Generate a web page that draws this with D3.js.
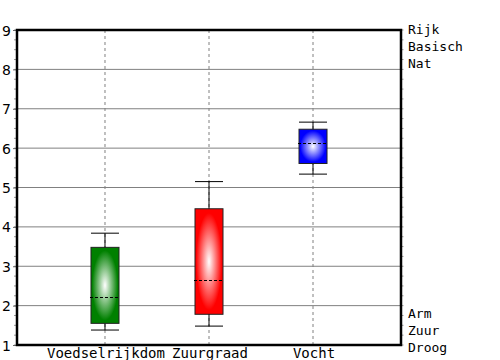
<!DOCTYPE html>
<html>
<head>
<meta charset="utf-8">
<script src="https://cdn.jsdelivr.net/npm/d3@7"></script>
<style>
  body { margin: 0; background: #fff; }
</style>
</head>
<body>
<div id="canvas"></div>
<script>
const categories = ["Voedselrijkdom", "Zuurgraad", "Vocht"];
const whiskerLow = [1.38, 1.48, 5.34];
const q1 = [1.55, 1.78, 5.61];
const medians = [2.21, 2.65, 6.12];
const q3 = [3.48, 4.46, 6.48];
const whiskerHigh = [3.84, 5.15, 6.66];
const yTicks = [1, 2, 3, 4, 5, 6, 7, 8, 9];
const topLabels = ["Rijk", "Basisch", "Nat"];
const bottomLabels = ["Arm", "Zuur", "Droog"];
const boxColors = ["#008000", "#ff0000", "#0000ff"];

const data = categories.map((c, i) => ({
    name: c, lo: whiskerLow[i], q1: q1[i], med: medians[i], q3: q3[i], hi: whiskerHigh[i], color: boxColors[i]
}));

const svg = d3.select("#canvas").append("svg")
    .attr("width", 500)
    .attr("height", 360);

const plotLeft = 17, plotRight = 401, plotTop = 30, plotBottom = 345;

const y = d3.scaleLinear().domain([1, 9]).range([plotBottom, plotTop]);
const x = d3.scalePoint().domain(categories).range([plotLeft, plotRight]).padding(0.846);
const boxW = 28;

// gradients
const defs = svg.append("defs");
data.forEach((d, i) => {
    const g = defs.append("radialGradient").attr("id", "grad" + i);
    g.append("stop").attr("offset", "0%").attr("stop-color", "#ffffff");
    g.append("stop").attr("offset", "92%").attr("stop-color", d.color);
});

// horizontal grid
svg.append("g").selectAll("line")
    .data(yTicks.filter(t => t > 1 && t < 9))
    .enter().append("line")
    .attr("x1", plotLeft).attr("x2", plotRight)
    .attr("y1", d => y(d)).attr("y2", d => y(d))
    .attr("stroke", "#808080").attr("stroke-width", 1);

// vertical dashed grid
svg.append("g").selectAll("line")
    .data(categories)
    .enter().append("line")
    .attr("x1", d => x(d)).attr("x2", d => x(d))
    .attr("y1", plotTop).attr("y2", plotBottom)
    .attr("stroke", "#808080").attr("stroke-dasharray", "3,3");

// boxes
const box = svg.append("g").selectAll("g")
    .data(data)
    .enter().append("g");

box.append("line") // whisker stem
    .attr("x1", d => x(d.name)).attr("x2", d => x(d.name))
    .attr("y1", d => y(d.hi)).attr("y2", d => y(d.lo))
    .attr("stroke", "#000");

box.append("line")
    .attr("x1", d => x(d.name) - boxW / 2).attr("x2", d => x(d.name) + boxW / 2)
    .attr("y1", d => y(d.hi)).attr("y2", d => y(d.hi))
    .attr("stroke", "#000");

box.append("line")
    .attr("x1", d => x(d.name) - boxW / 2).attr("x2", d => x(d.name) + boxW / 2)
    .attr("y1", d => y(d.lo)).attr("y2", d => y(d.lo))
    .attr("stroke", "#000");

box.append("rect")
    .attr("x", d => x(d.name) - boxW / 2)
    .attr("width", boxW)
    .attr("y", d => y(d.q3))
    .attr("height", d => y(d.q1) - y(d.q3))
    .attr("fill", (d, i) => `url(#grad${i})`)
    .attr("stroke", "#222");

box.append("line") // median
    .attr("x1", d => x(d.name) - boxW / 2 - 1).attr("x2", d => x(d.name) + boxW / 2)
    .attr("y1", d => Math.round(y(d.med)) + 0.5).attr("y2", d => Math.round(y(d.med)) + 0.5)
    .attr("stroke", "#000").attr("stroke-dasharray", "3,2");

// minor ticks
const minor = d3.range(1, 9.01, 0.25);
svg.append("g").selectAll("line").data(minor).enter().append("line")
    .attr("x1", plotLeft - 3).attr("x2", plotLeft)
    .attr("y1", d => y(d)).attr("y2", d => y(d))
    .attr("stroke", "#999");
svg.append("g").selectAll("line").data(minor).enter().append("line")
    .attr("x1", plotRight).attr("x2", plotRight + 2.5)
    .attr("y1", d => y(d)).attr("y2", d => y(d))
    .attr("stroke", "#999");

// left axis
const yAxisGroup = svg.append("g").attr("transform", `translate(${plotLeft},0)`);
yAxisGroup.call(d3.axisLeft(y).tickValues(yTicks).tickSize(4).tickPadding(2).tickFormat(d3.format("d")));
yAxisGroup.select(".domain").remove();
yAxisGroup.selectAll(".tick line").attr("stroke", "#666");
yAxisGroup.selectAll("text")
    .attr("font-family", "DejaVu Sans").attr("font-size", 14).attr("fill", "#000")
    .attr("dy", "0.36em");

// bottom category labels
svg.append("g").selectAll("text")
    .data(categories)
    .enter().append("text")
    .attr("x", d => x(d) + 1)
    .attr("y", 358)
    .attr("text-anchor", "middle")
    .attr("font-family", "DejaVu Sans Mono")
    .attr("font-size", 14)
    .text(d => d);

// right labels
const lineH = 17;
svg.append("g").selectAll("text")
    .data(topLabels)
    .enter().append("text")
    .attr("x", plotRight + 7)
    .attr("y", (d, i) => y(9) - 1 + i * lineH)
    .attr("dy", "0.35em")
    .attr("font-family", "DejaVu Sans Mono")
    .attr("font-size", 13)
    .text(d => d);
svg.append("g").selectAll("text")
    .data(bottomLabels)
    .enter().append("text")
    .attr("x", plotRight + 7)
    .attr("y", (d, i) => y(1) - (bottomLabels.length - 1 - i) * lineH + 2)
    .attr("dy", "0.35em")
    .attr("font-family", "DejaVu Sans Mono")
    .attr("font-size", 13)
    .text(d => d);

// frame
svg.append("rect")
    .attr("x", plotLeft).attr("y", plotTop)
    .attr("width", plotRight - plotLeft).attr("height", plotBottom - plotTop)
    .attr("fill", "none").attr("stroke", "#000").attr("stroke-width", 2.5);
</script>
</body>
</html>
